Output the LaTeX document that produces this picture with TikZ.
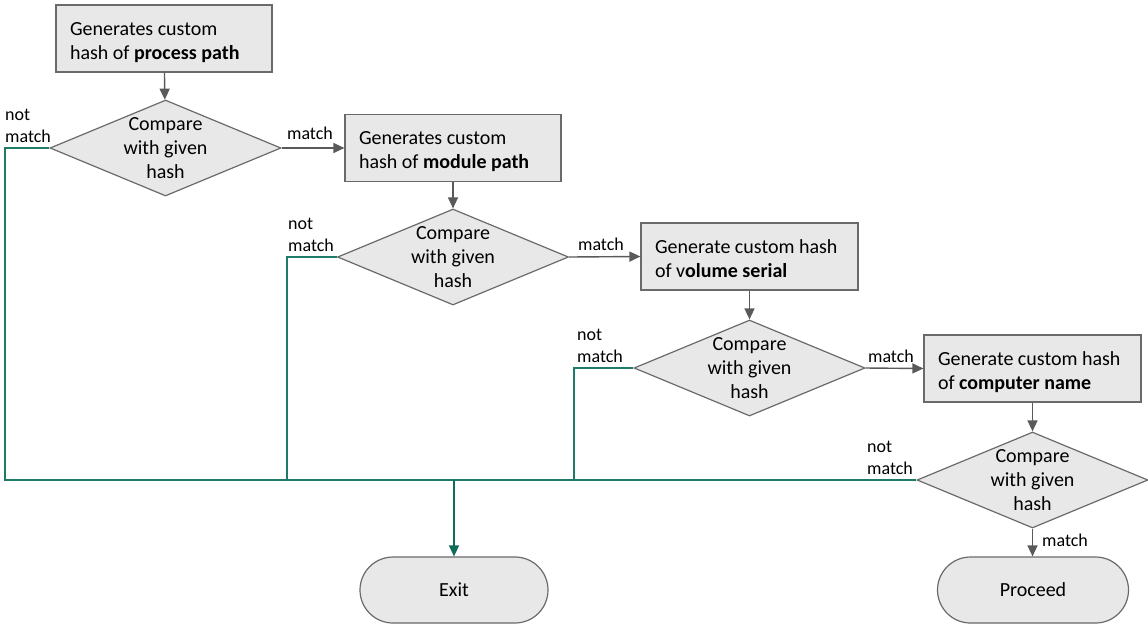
\documentclass[tikz,border=0pt]{standalone}
\usepackage{fontspec}
\setmainfont{Carlito}
\usetikzlibrary{shapes.geometric,arrows.meta}
\definecolor{boxfill}{HTML}{E8E8E8}
\definecolor{boxline}{HTML}{6A6A6A}
\definecolor{arrgray}{HTML}{5A5A5A}
\definecolor{nmgreen}{HTML}{1F7A68}
\definecolor{nmdark}{HTML}{0F6B5A}
\newcommand{\natsp}{\spaceskip=0pt\xspaceskip=0pt\relax}
\newcommand{\topstrut}{\rule{0pt}{30pt}}
\newcommand{\botstrut}{\rule[-12.5pt]{0pt}{12.5pt}}
\begin{document}
\begin{tikzpicture}[x=1pt,y=-1pt,
  every node/.style={font=\fontsize{20}{24.4}\selectfont, text=black},
  procbox/.style={draw=boxline, fill=boxfill, line width=1.2pt, rectangle, minimum width=216pt, minimum height=67pt, text width=188pt, align=left, inner xsep=14pt, inner ysep=0pt},
  dia/.style={draw=boxline, fill=boxfill, line width=1.2pt, diamond, minimum width=231pt, minimum height=96pt, inner sep=0pt},
  diatext/.style={align=center, inner sep=0pt},
  term/.style={draw=boxline, fill=boxfill, line width=1.2pt, rectangle, rounded corners=33pt, minimum height=66pt},
  lbl/.style={font=\fontsize{18}{22}\selectfont, inner sep=0pt},
  garrow/.style={draw=arrgray, line width=1.4pt, -{Triangle[length=11pt,width=10pt]}},
  nmline/.style={draw=nmgreen, line width=1.3pt},
]
\useasboundingbox (0,0) rectangle (1148,625);

% process boxes
\node[procbox] (b1) at (164,38.5) {\natsp\topstrut Generates custom\\hash of \textbf{process path}\botstrut};
\node[procbox] (b2) at (453,148) {\natsp\topstrut Generates custom\\hash of \textbf{module path}\botstrut};
\node[procbox, minimum width=217pt, text width=189pt] (b3) at (749.5,256.5) {\natsp\topstrut Generate custom hash\\of v\textbf{olume serial}\botstrut};
\node[procbox, minimum width=217pt, text width=189pt] (b4) at (1032.5,368.5) {\natsp\topstrut Generate custom hash\\of \textbf{computer name}\botstrut};

% decisions
\node[dia] (d1) at (165.5,148) {};
\node[diatext] (d1t) at (d1.center) {Compare\\with given\\hash};
\node[dia] (d2) at (453,257) {};
\node[diatext] (d2t) at (d2.center) {Compare\\with given\\hash};
\node[dia] (d3) at (749.5,368) {};
\node[diatext] (d3t) at (d3.center) {Compare\\with given\\hash};
\node[dia] (d4) at (1032.5,480) {};
\node[diatext] (d4t) at (d4.center) {Compare\\with given\\hash};

% terminals
\node[term, minimum width=188pt] (ex) at (454,590) {Exit};
\node[term, minimum width=191pt] (pr) at (1033,590) {Proceed};

% gray arrows
\draw[garrow] (b1) -- (d1);
\draw[garrow] (d1.east) -- (b2.west);
\draw[garrow] (b2) -- (d2);
\draw[garrow] (d2.east) -- (b3.west);
\draw[garrow] (b3.south -| d3.north) -- (d3.north);
\draw[garrow] (d3.east) -- (b4.west);
\draw[garrow] (b4.south -| d4.north) -- (d4.north);
\draw[garrow] (d4.south) -- (pr.north -| d4.south);

% match labels
\node[lbl] (m1) at (310,133) {match};
\node[lbl] (m2) at (601,244) {match};
\node[lbl] (m3) at (891,356) {match};
\node[lbl] (m4) at (1065,540) {match};

% not match labels
\node[lbl, align=left, anchor=west] (n1) at (5,126) {not\\match};
\node[lbl, align=left, anchor=west] (n2) at (288,235) {not\\match};
\node[lbl, align=left, anchor=west] (n3) at (577,346) {not\\match};
\node[lbl, align=left, anchor=west] (n4) at (867,458) {not\\match};

% not-match routing
\coordinate (j) at (ex.north |- d4.west);
\coordinate (c1) at (5,148);
\coordinate (c2) at (287,257);
\coordinate (c3) at (574,368);
\draw[nmline] (d1.west) -- (c1) -- (c1 |- j) -- (j);
\draw[nmline] (d2.west) -- (c2) -- (c2 |- j) -- (j);
\draw[nmline] (d3.west) -- (c3) -- (c3 |- j) -- (j);
\draw[nmline] (d4.west) -- (j);
\draw[nmline, draw=nmdark, -{Triangle[length=11pt,width=10pt]}] (j) -- (ex.north);
\end{tikzpicture}
\end{document}
